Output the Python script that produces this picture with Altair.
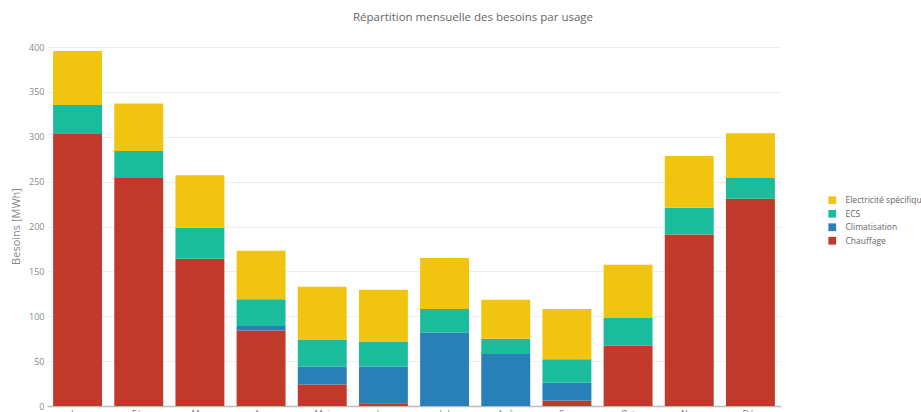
import altair as alt
import pandas as pd

# Monthly needs by end use (MWh)
mois = ["Jan", "Fév", "Mar", "Avr", "Mai", "Jun", "Jul", "Aoû", "Sep", "Oct", "Nov", "Déc"]
chauffage = [303, 254, 164, 84, 24, 3, 0, 0, 6, 67, 191, 231]
climatisation = [0, 0, 0, 5, 20, 41, 82, 58, 20, 0, 0, 0]
ecs = [32.5, 30, 34.5, 30, 30, 28, 26, 17, 26, 31, 30, 23]
electricite = [60, 53, 58.5, 54, 59, 57.5, 57, 43.5, 56, 59.5, 57.5, 50]

usages = ["Chauffage", "Climatisation", "ECS", "Electricité spécifique"]
series = [chauffage, climatisation, ecs, electricite]
legend_order = ["Electricité spécifique", "ECS", "Climatisation", "Chauffage"]
colors = ["#F1C40F", "#1ABC9C", "#2980B9", "#C0392B"]

rows = []
for rang, (usage, vals) in enumerate(zip(usages, series)):
    for m, v in zip(mois, vals):
        rows.append({"Mois": m, "Usage": usage, "Besoins": v, "rang": rang})
df = pd.DataFrame(rows)

FONT = "Open Sans"

chart = (
    alt.Chart(df)
    .mark_bar()
    .encode(
        x=alt.X(
            "Mois:N",
            sort=mois,
            scale=alt.Scale(paddingInner=0.2, paddingOuter=0.1),
            axis=alt.Axis(
                title=None,
                labelAngle=0,
                ticks=False,
                labelPadding=3,
                labelFontSize=9,
                labelColor="#777",
                labelFont=FONT,
                domainColor="#bbb",
                domainWidth=1.5,
            ),
        ),
        y=alt.Y(
            "Besoins:Q",
            stack="zero",
            scale=alt.Scale(domain=[0, 400], nice=False),
            axis=alt.Axis(
                title="Besoins [MWh]",
                values=[0, 50, 100, 150, 200, 250, 300, 350, 400],
                ticks=False,
                domain=False,
                labelPadding=3,
                labelFontSize=9,
                labelColor="#888",
                labelFont=FONT,
                gridColor="#eeeeee",
                gridWidth=1,
                titleFont=FONT,
                titleFontSize=11,
                titleFontWeight="normal",
                titleColor="#888",
                titleX=-31,
                titleY=179,
                titleAngle=-90,
                titleAlign="center",
                titleBaseline="middle",
            ),
        ),
        color=alt.Color(
            "Usage:N",
            scale=alt.Scale(domain=legend_order, range=colors),
            legend=alt.Legend(
                title=None,
                orient="none",
                legendX=781,
                legendY=149,
                padding=0,
                symbolType="square",
                symbolSize=60,
                symbolStrokeWidth=0,
                symbolOffset=0,
                labelFont=FONT,
                labelFontSize=8.5,
                labelColor="#666",
                labelOffset=9,
                rowPadding=4.5,
            ),
        ),
        order=alt.Order("rang:Q"),
    )
    .properties(
        width=734,
        height=359,
        background="white",
        autosize=alt.AutoSizeParams(type="none"),
        padding={"left": 47, "top": 47, "right": 140, "bottom": 6},
        title=alt.Title(
            "Répartition mensuelle des besoins par usage",
            font=FONT,
            fontSize=11.5,
            fontWeight="normal",
            color="#666",
            anchor="middle",
            dx=59,
            offset=20,
        ),
    )
    .configure_view(strokeWidth=0, stroke="transparent")
)

chart.save("out.html", embed_options={"renderer": "svg", "actions": False})
